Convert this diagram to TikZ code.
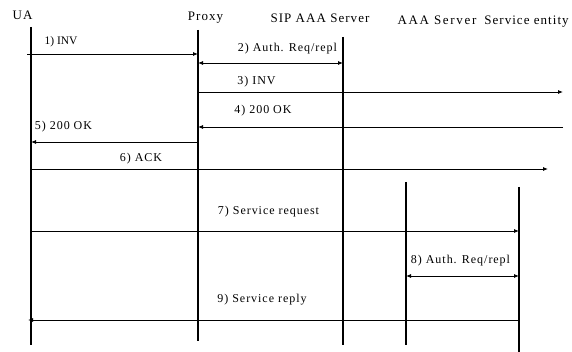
\documentclass[tikz,border=0pt]{standalone}
\usepackage{fontspec}
\setmainfont{Liberation Serif}
\newfontfamily\hdfont[LetterSpace=8]{Liberation Serif}
\newfontfamily\hdwfont[LetterSpace=13]{Liberation Serif}
\newfontfamily\msgfont[LetterSpace=8]{Liberation Serif}
\usetikzlibrary{arrows.meta}
\begin{document}
\begin{tikzpicture}[x=1pt,y=-1pt,
  life/.style={line width=1.4pt},
  msg/.style={line width=0.8pt,-{Latex[length=5pt,width=4pt]}},
  dmsg/.style={line width=0.8pt,{Latex[length=5pt,width=4pt]}-{Latex[length=5pt,width=4pt]}},
  hd/.style={font=\hdfont\fontsize{13}{15}\selectfont,anchor=base,inner sep=0pt},
  hdw/.style={font=\hdwfont\fontsize{13}{15}\selectfont,anchor=base,inner sep=0pt},
  lbl/.style={font=\msgfont\fontsize{12}{14}\selectfont,anchor=base,inner sep=0pt},
  lbls/.style={font=\fontsize{11.5}{13}\selectfont,anchor=base,inner sep=0pt}]
\useasboundingbox (0,0) rectangle (572,352);
% lifeline ends
\coordinate (uaT) at (31,27);   \coordinate (uaB) at (31,345);
\coordinate (pxT) at (198,30);  \coordinate (pxB) at (198,341);
\coordinate (sipT) at (343,37); \coordinate (sipB) at (343,345);
\coordinate (aaaT) at (406,182);\coordinate (aaaB) at (406,345);
\coordinate (seT) at (519,187); \coordinate (seB) at (519,352);
\draw[life] (uaT) -- (uaB);
\draw[life] (pxT) -- (pxB);
\draw[life] (sipT) -- (sipB);
\draw[life] (aaaT) -- (aaaB);
\draw[life] (seT) -- (seB);
% headers
\node[hd] (hUA) at (22.5,19.5) {UA};
\node[hd] (hPx) at (205.5,20.5) {Proxy};
\node[hd] (hSip) at (320,22.5) {SIP AAA Server};
\node[hdw] (hAaa) at (437,25) {AAA Server};
\node[hd] (hSe) at (526.5,24.5) {Service entity};
% message endpoints
\coordinate (m1a) at (27,54);  \coordinate (m1b) at (198,54);
\coordinate (m2a) at (198,63); \coordinate (m2b) at (343,63);
\coordinate (m3a) at (198,92); \coordinate (m3b) at (563,92);
\coordinate (m4a) at (563,127);\coordinate (m4b) at (198,127);
\coordinate (m5a) at (198,142);\coordinate (m5b) at (31,142);
\coordinate (m6a) at (31,169); \coordinate (m6b) at (548,169);
\coordinate (m7a) at (31,231); \coordinate (m7b) at (519,231);
\coordinate (m8a) at (406,276);\coordinate (m8b) at (519,276);
\coordinate (m9a) at (519,320);\coordinate (m9b) at (28,320);
\draw[msg] (m1a) -- (m1b);
\draw[dmsg] (m2a) -- (m2b);
\draw[msg] (m3a) -- (m3b);
\draw[msg] (m4a) -- (m4b);
\draw[msg] (m5a) -- (m5b);
\draw[msg] (m6a) -- (m6b);
\draw[msg] (m7a) -- (m7b);
\draw[dmsg] (m8a) -- (m8b);
\draw[msg] (m9a) -- (m9b);
% labels
\node[lbls] (l1) at (61,45) {1) INV};
\node[lbl] (l2) at (287.5,52) {2) Auth. Req/repl};
\node[lbl] (l3) at (256.5,85) {3) INV};
\node[lbl] (l4) at (263,114) {4) 200 OK};
\node[lbl] (l5) at (63.5,130) {5) 200 OK};
\node[lbl] (l6) at (141,161.5) {6) ACK};
\node[lbl] (l7) at (268.5,215) {7) Service request};
\node[lbl] (l8) at (460.5,264) {8) Auth. Req/repl};
\node[lbl] (l9) at (262,302) {9) Service reply};
\end{tikzpicture}
\end{document}
